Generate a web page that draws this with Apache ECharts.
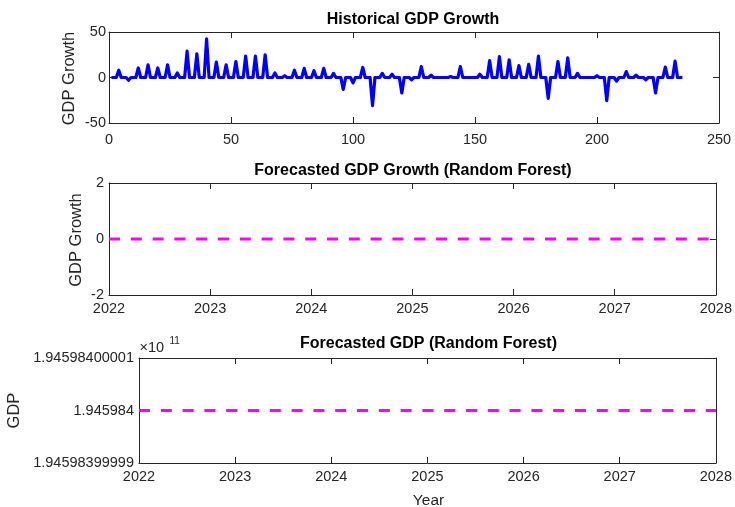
<!DOCTYPE html>
<html>
<head>
<meta charset="utf-8">
<script src="https://cdn.jsdelivr.net/npm/echarts@6/dist/echarts.min.js"></script>
<style>
  html, body { margin: 0; padding: 0; background: #fff; }
  #chart { width: 735px; height: 507px; }
</style>
</head>
<body>
<div id="chart"></div>
<script>
// Historical quarter-on-quarter GDP growth, quarters 1..235
const historicalGrowth = [
  0, 0, 0, 8, 0, 0, 0, -3, 0, 0, 0, 10.5, 0, 0, 0, 14, 0, 0, 0, 10.5,
  0, 0, 0, 14, 0, 0, 0, 5, 0, 0, 0, 29, 0, 0, 0, 26, 0, 0, 0, 42.5,
  0, 0, 0, 17, 0, 0, 0, 14, 0, 0, 0, 17.5, 0, 0, 0, 23.5, 0, 0, 0, 23.5,
  0, 0, 0, 25, 0, 0, 0, 5, 0, 0, 0, 2, 0, 0, 0, 8, 0, 0, 0, 10,
  0, 0, 0, 7.5, 0, 0, 0, 10, 0, 0, 0, 4.5, 0, 0, 0, -13, 0, 0, 0, -6,
  0, 0, 0, 11, 0, 0, 0, -31, 0, 0, 0, 4.5, 0, 0, 0, 3.5, 0, 0, 0, -17,
  0, 0, 0, -2.5, 0, 0, 0, 12, 0, 0, 0, 2.5, 0, 0, 0, 0, 0, 0, 0, 1,
  0, 0, 0, 12, 0, 0, 0, 0, 0, 0, 0, 3.5, 0, 0, 0, 18.5, 0, 0, 0, 23,
  0, 0, 0, 19.5, 0, 0, 0, 13, 0, 0, 0, 14.5, 0, 0, 0, 23.5, 0, 0, 0, -23,
  0, 0, 0, 17.5, 0, 0, 0, 21.5, 0, 0, 0, 4.5, 0, 0, 0, 0, 0, 0, 0, 2,
  0, 0, 0, -25.5, 0, 0, 0, -4, 0, 0, 0, 6.5, 0, 0, 0, 2.5, 0, 0, 0, -2.5,
  0, 0, 0, -17, 0, 0, 0, 11.5, 0, 0, 0, 18, 0, 0, 0
];

// Random forest forecast, yearly
const forecastYears = [2022, 2023, 2024, 2025, 2026, 2027, 2028];
const forecastGrowth = [0, 0, 0, 0, 0, 0, 0];
const forecastGDP = [194598400000, 194598400000, 194598400000, 194598400000,
                     194598400000, 194598400000, 194598400000];

// Tick values and labels
const quarterTicks = [0, 50, 100, 150, 200, 250];
const growthTicks = [-50, 0, 50];
const forecastGrowthTicks = [-2, 0, 2];
const yearTicks = [2022, 2023, 2024, 2025, 2026, 2027, 2028];
const gdpTickValues = [194598399999, 194598400000, 194598400001];
const gdpTickLabels = ['1.94598399999', '1.945984', '1.94598400001'];

const FONT = "'Liberation Sans', Arial, Helvetica, sans-serif";
const AXIS = '#262626';

function gdpLabel(v) {
  let best = 0, d = Infinity;
  gdpTickValues.forEach((t, i) => { const e = Math.abs(t - v); if (e < d) { d = e; best = i; } });
  return d < 0.5 ? gdpTickLabels[best] : '';
}

function xAxisPair(gridIndex, ticks, margin) {
  const base = {
    type: 'value', gridIndex,
    min: ticks[0], max: ticks[ticks.length - 1], interval: ticks[1] - ticks[0],
    splitLine: { show: false },
    axisLine: { show: true, onZero: false, lineStyle: { color: AXIS, width: 1 } },
    axisTick: { show: true, inside: true, length: 6, lineStyle: { color: AXIS, width: 1 } }
  };
  return [
    Object.assign({}, base, {
      position: 'bottom',
      axisLabel: { show: true, color: AXIS, fontFamily: FONT, fontSize: 14.5, margin,
                   showMinLabel: true, showMaxLabel: true, formatter: v => String(v) }
    }),
    Object.assign({}, base, { position: 'top', axisLabel: { show: false } })
  ];
}

function yAxisPair(gridIndex, min, max, interval, margin, formatter) {
  const base = {
    type: 'value', gridIndex, min, max, interval,
    splitLine: { show: false },
    axisLine: { show: true, onZero: false, lineStyle: { color: AXIS, width: 1 } },
    axisTick: { show: true, inside: true, length: 6, lineStyle: { color: AXIS, width: 1 } }
  };
  return [
    Object.assign({}, base, {
      position: 'left',
      axisLabel: { show: true, color: AXIS, fontFamily: FONT, fontSize: 14.5, margin,
                   showMinLabel: true, showMaxLabel: true, formatter: formatter || (v => String(v)) }
    }),
    Object.assign({}, base, { position: 'right', axisLabel: { show: false } })
  ];
}

function label(text, x, y, opts) {
  return Object.assign({
    type: 'text', x, y, silent: true,
    style: Object.assign({
      text, fill: AXIS, font: '16.5px ' + FONT, align: 'center', verticalAlign: 'middle'
    }, opts && opts.style)
  }, opts && opts.el);
}

const chart = echarts.init(document.getElementById('chart'), null, { renderer: 'canvas' });

chart.setOption({
  animation: false,
  backgroundColor: '#ffffff',
  grid: [
    { left: 109, top: 32, width: 610, height: 91 },
    { left: 109, top: 183, width: 608, height: 112 },
    { left: 139, top: 358, width: 579, height: 105 }
  ],
  xAxis: [
    ...xAxisPair(0, quarterTicks, 9),
    ...xAxisPair(1, yearTicks, 6),
    ...xAxisPair(2, yearTicks, 6)
  ],
  yAxis: [
    ...yAxisPair(0, growthTicks[0], growthTicks[2], growthTicks[1] - growthTicks[0], 3),
    ...yAxisPair(1, forecastGrowthTicks[0], forecastGrowthTicks[2], forecastGrowthTicks[1] - forecastGrowthTicks[0], 5),
    ...yAxisPair(2, gdpTickValues[0], gdpTickValues[2], gdpTickValues[1] - gdpTickValues[0], 5, gdpLabel)
  ],
  series: [
    {
      type: 'line', xAxisIndex: 0, yAxisIndex: 0,
      data: historicalGrowth.map((v, i) => [i + 1, v]),
      showSymbol: false, symbol: 'none',
      lineStyle: { color: '#0000ff', width: 3.2, join: 'round' }
    },
    {
      type: 'line', xAxisIndex: 2, yAxisIndex: 2,
      data: forecastYears.map((y, i) => [y, forecastGrowth[i]]),
      showSymbol: false, symbol: 'none',
      lineStyle: { color: '#ff00ff', width: 3, type: [11, 10.8], cap: 'butt' }
    },
    {
      type: 'line', xAxisIndex: 4, yAxisIndex: 4,
      data: forecastYears.map((y, i) => [y, forecastGDP[i]]),
      showSymbol: false, symbol: 'none',
      lineStyle: { color: '#ff00ff', width: 3, type: [11, 10.8], cap: 'butt' }
    }
  ],
  graphic: [
    label('Historical GDP Growth', 413, 19.5, { style: { fill: '#000', font: 'bold 16px ' + FONT } }),
    label('Forecasted GDP Growth (Random Forest)', 413, 170.5, { style: { fill: '#000', font: 'bold 16px ' + FONT } }),
    label('Forecasted GDP (Random Forest)', 428.5, 344, { style: { fill: '#000', font: 'bold 16px ' + FONT } }),
    label('GDP Growth', 69, 78.5, { el: { rotation: Math.PI / 2 } }),
    label('GDP Growth', 76, 240, { el: { rotation: Math.PI / 2 } }),
    label('GDP', 14, 410.5, { el: { rotation: Math.PI / 2 } }),
    label('Year', 428.5, 501, { style: { font: '15.5px ' + FONT } }),
    label('\u00d710', 139.5, 347.5, { style: { align: 'left', font: '14.5px ' + FONT } }),
    label('11', 169.5, 341.5, { style: { align: 'left', font: '10px ' + FONT } })
  ]
});
</script>
</body>
</html>
